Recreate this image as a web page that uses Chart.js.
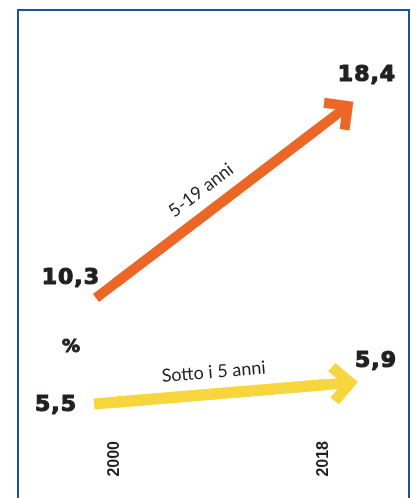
<!DOCTYPE html>
<html>
<head>
<meta charset="utf-8">
<script src="https://cdn.jsdelivr.net/npm/chart.js@4.4.1/dist/chart.umd.min.js"></script>
<style>
  html, body { margin: 0; padding: 0; background: #fff; }
  #wrap { position: relative; width: 411px; height: 498px; overflow: hidden; }
  #frame { position: absolute; left: 17px; top: 9px; width: 393px; height: 530px;
           border: 2px solid #1f50a0; border-bottom: none; box-sizing: border-box; }
  #wrap canvas { position: absolute; left: 0; top: 0; }
</style>
</head>
<body>
<div id="wrap">
  <div id="frame"></div>
  <canvas id="myChart" width="411" height="498"></canvas>
</div>
<script>
// dati
const anni = [2000, 2018];
const xTicks = [2000, 2018];
const serie = ["5-19 anni", "Sotto i 5 anni"];
const valori519 = [10.3, 18.4];
const valoriSotto5 = [5.5, 5.9];
const unita = "%";

const coloreArancio = "#ec6726";
const coloreGiallo = "#f6d63c";
const coloreTesto = "#231f20";

function fmt(v) {
    return v.toFixed(1).replace(".", ",");
}

function punti(valori) {
    return anni.map((a, i) => ({ x: a, y: valori[i] }));
}

// testo "pesante": riempimento + contorno sottile
function testoPesante(ctx, txt, x, y) {
    ctx.fillText(txt, x, y);
    ctx.strokeText(txt, x, y);
}

// disegna le frecce, le etichette dei valori e i nomi delle serie
const frecce = {
    id: "frecce",
    afterDatasetsDraw(chart) {
        const ctx = chart.ctx;
        chart.data.datasets.forEach((ds, i) => {
            const pts = chart.getDatasetMeta(i).data;
            const p0 = pts[0];
            const p1 = pts[pts.length - 1];
            const dx = p1.x - p0.x;
            const dy = p1.y - p0.y;
            const len = Math.hypot(dx, dy);
            const ux = dx / len;
            const uy = dy / len;
            const w = ds.borderWidth;

            const sx = p0.x - ux * ds.extStart;
            const sy = p0.y - uy * ds.extStart;
            const vd = ds.extEnd - (w / 2) * Math.SQRT2;
            const vx = p1.x + ux * vd;
            const vy = p1.y + uy * vd;

            ctx.save();
            ctx.strokeStyle = ds.borderColor;
            ctx.lineWidth = w;
            ctx.lineCap = "butt";
            ctx.lineJoin = "miter";
            ctx.miterLimit = 10;
            ctx.beginPath();
            ctx.moveTo(sx, sy);
            ctx.lineTo(vx, vy);
            ctx.stroke();

            // punta
            const bx = -ux, by = -uy;
            const c = Math.cos(Math.PI / 4), s = Math.sin(Math.PI / 4);
            const a1x = bx * c - by * s, a1y = bx * s + by * c;
            const a2x = bx * c + by * s, a2y = -bx * s + by * c;
            ctx.beginPath();
            ctx.moveTo(vx + a1x * ds.arm, vy + a1y * ds.arm);
            ctx.lineTo(vx, vy);
            ctx.lineTo(vx + a2x * ds.arm, vy + a2y * ds.arm);
            ctx.stroke();

            // nome della serie lungo la freccia
            const tipX = p1.x + ux * ds.extEnd;
            const tipY = p1.y + uy * ds.extEnd;
            const tot = Math.hypot(tipX - sx, tipY - sy);
            const nx = uy, ny = -ux;
            const lx = sx + ux * tot * 0.46 + nx * 22;
            const ly = sy + uy * tot * 0.46 + ny * 22;
            ctx.translate(lx, ly);
            ctx.rotate(Math.atan2(uy, ux));
            ctx.fillStyle = coloreTesto;
            ctx.font = "400 18px Lato";
            ctx.textAlign = "center";
            ctx.textBaseline = "middle";
            ctx.fillText(ds.label, 0, 0);
            ctx.restore();

            // valori
            ctx.save();
            ctx.fillStyle = coloreTesto;
            ctx.strokeStyle = coloreTesto;
            ctx.lineWidth = 1.2;
            ctx.lineJoin = "round";
            ctx.font = "bold 22px 'DejaVu Sans'";
            ctx.letterSpacing = "1px";
            ctx.textBaseline = "middle";
            const vals = ds.data;
            ctx.textAlign = ds.startLabel.align;
            testoPesante(ctx, fmt(vals[0].y), p0.x + ds.startLabel.dx, p0.y + ds.startLabel.dy);
            ctx.textAlign = ds.endLabel.align;
            testoPesante(ctx, fmt(vals[vals.length - 1].y), p1.x + ds.endLabel.dx, p1.y + ds.endLabel.dy);
            ctx.restore();
        });

        // unità
        ctx.save();
        ctx.fillStyle = coloreTesto;
        ctx.strokeStyle = coloreTesto;
        ctx.lineWidth = 1;
        ctx.font = "bold 18px 'DejaVu Sans'";
        ctx.textAlign = "center";
        ctx.textBaseline = "middle";
        testoPesante(ctx, unita, 71, 347);
        ctx.restore();
    },
};

const ctx = document.getElementById("myChart");
const chart = new Chart(ctx, {
    type: "line",
    data: {
        datasets: [
            {
                label: serie[0],
                data: punti(valori519),
                yAxisID: "yA",
                borderColor: coloreArancio,
                borderWidth: 10,
                borderCapStyle: "butt",
                pointRadius: 0,
                extStart: 24,
                extEnd: 37,
                arm: 24,
                startLabel: { dx: -15, dy: -5, align: "right" },
                endLabel: { dx: 43, dy: -49, align: "center" },
            },
            {
                label: serie[1],
                data: punti(valoriSotto5),
                yAxisID: "yB",
                borderColor: coloreGiallo,
                borderWidth: 11,
                borderCapStyle: "butt",
                pointRadius: 0,
                extStart: 21,
                extEnd: 34,
                arm: 24,
                startLabel: { dx: -38, dy: 3, align: "right" },
                endLabel: { dx: 52, dy: -24, align: "center" },
            },
        ],
    },
    options: {
        responsive: false,
        animation: false,
        layout: { padding: 0 },
        plugins: {
            legend: { display: false },
            tooltip: { enabled: false },
        },
        scales: {
            x: {
                type: "linear",
                min: 1990.096,
                max: 2025.493,
                afterBuildTicks: (scale) => {
                    scale.ticks = xTicks.map((v) => ({ value: v }));
                },
                afterFit: (scale) => {
                    scale.height = 60;
                },
                grid: { display: false, drawTicks: false },
                border: { display: false },
                ticks: {
                    minRotation: 90,
                    maxRotation: 90,
                    padding: 3,
                    color: coloreTesto,
                    font: { family: "Liberation Sans", weight: "bold", size: 16 },
                    callback: (v) => String(v),
                },
            },
            yA: {
                display: false,
                min: 2.45,
                max: 24.706,
            },
            yB: {
                display: false,
                min: 4.681,
                max: 14.721,
            },
        },
    },
    plugins: [frecce],
});
</script>
</body>
</html>
